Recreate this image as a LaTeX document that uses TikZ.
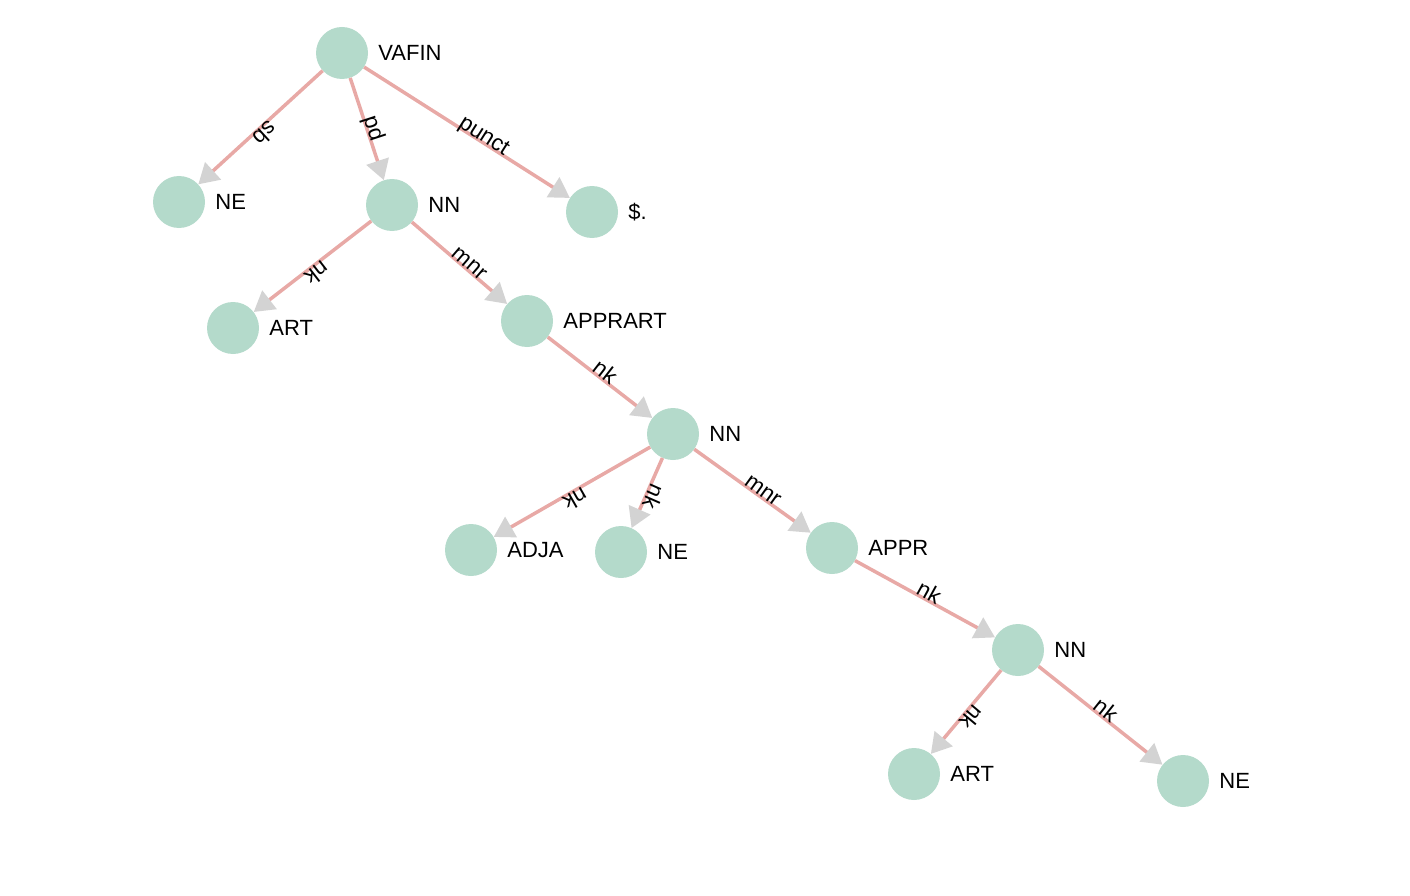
\documentclass[tikz,border=0pt]{standalone}
\usepackage{fontspec}
\setmainfont{Liberation Sans}
\usetikzlibrary{arrows.meta}
\definecolor{nodefill}{HTML}{B4DACB}
\definecolor{edgecol}{HTML}{E8A9A6}
\definecolor{tipgray}{HTML}{D3D3D3}
\newcommand{\elt}[1]{\hspace*{-13pt}#1}
\begin{document}
\begin{tikzpicture}[x=1pt,y=-1pt,
  tok/.style={circle,fill=nodefill,minimum size=52pt,inner sep=0pt},
  lab/.style={font=\fontsize{22}{22}\selectfont,inner sep=0pt,label distance=10pt},
  dep/.style={draw=edgecol,line width=3.5pt,
    -{Triangle[length=20pt,width=23pt,color=tipgray]}},
  elab/.style={midway,sloped,allow upside down,anchor=base west,inner xsep=0pt,inner ysep=1pt,
    font=\fontsize{22.5}{22.5}\selectfont}]
\useasboundingbox (0,0) rectangle (1410,896);
\node[tok,label={[lab]east:VAFIN}] (vafin) at (342,53) {};
\node[tok,label={[lab]east:NE}] (ne1) at (179,202) {};
\node[tok,label={[lab]east:NN}] (nn1) at (392,205) {};
\node[tok,label={[lab]east:\$.}] (punct) at (592,212) {};
\node[tok,label={[lab]east:ART}] (art1) at (233,328) {};
\node[tok,label={[lab]east:APPRART}] (apprart) at (527,321) {};
\node[tok,label={[lab]east:NN}] (nn2) at (673,434) {};
\node[tok,label={[lab]east:ADJA}] (adja) at (471,550) {};
\node[tok,label={[lab]east:NE}] (ne2) at (621,552) {};
\node[tok,label={[lab]east:APPR}] (appr) at (832,548) {};
\node[tok,label={[lab]east:NN}] (nn3) at (1018,650) {};
\node[tok,label={[lab]east:ART}] (art2) at (914,774) {};
\node[tok,label={[lab]east:NE}] (ne3) at (1183,781) {};
\draw[dep] (vafin) -- node[elab] {\elt{sb}} (ne1);
\draw[dep] (vafin) -- node[elab] {\elt{pd}} (nn1);
\draw[dep] (vafin) -- node[elab] {\elt{punct}} (punct);
\draw[dep] (nn1) -- node[elab] {\elt{nk}} (art1);
\draw[dep] (nn1) -- node[elab] {\elt{mnr}} (apprart);
\draw[dep] (apprart) -- node[elab] {\elt{nk}} (nn2);
\draw[dep] (nn2) -- node[elab] {\elt{nk}} (adja);
\draw[dep] (nn2) -- node[elab] {\elt{nk}} (ne2);
\draw[dep] (nn2) -- node[elab] {\elt{mnr}} (appr);
\draw[dep] (appr) -- node[elab] {\elt{nk}} (nn3);
\draw[dep] (nn3) -- node[elab] {\elt{nk}} (art2);
\draw[dep] (nn3) -- node[elab] {\elt{nk}} (ne3);
\end{tikzpicture}
\end{document}
